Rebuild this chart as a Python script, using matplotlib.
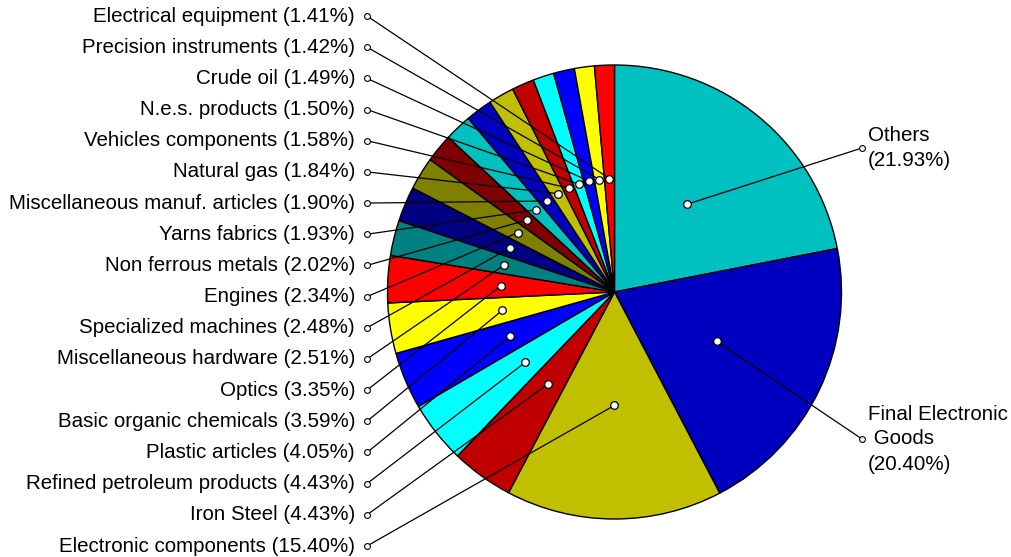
import numpy as np
import matplotlib
matplotlib.use("Agg")
import matplotlib.pyplot as plt

plt.rcParams['font.family'] = ['Liberation Sans', 'DejaVu Sans']

# slices, clockwise from the top
names = ["Others", "Final Electronic Goods", "Electronic components", "Iron Steel",
         "Refined petroleum products", "Plastic articles", "Basic organic chemicals",
         "Optics", "Miscellaneous hardware", "Specialized machines", "Engines",
         "Non ferrous metals", "Yarns fabrics", "Miscellaneous manuf. articles",
         "Natural gas", "Vehicles components", "N.e.s. products", "Crude oil",
         "Precision instruments", "Electrical equipment"]
shares = [21.93, 20.40, 15.40, 4.43, 4.43, 4.05, 3.59, 3.35, 2.51, 2.48, 2.34,
          2.02, 1.93, 1.90, 1.84, 1.58, 1.50, 1.49, 1.42, 1.41]
palette = ["#00C0C0", "#0000C0", "#C0C000", "#C00000", "#00FFFF", "#0000FF",
           "#FFFF00", "#FF0000", "#008080", "#000080", "#808000", "#800000"]
right_texts = ["Others\n(21.93%)", "Final Electronic\n Goods\n(20.40%)"]

W, H = 1011, 557
fig = plt.figure(figsize=(W / 100, H / 100), dpi=100)
ax = fig.add_axes([0, 0, 1, 1])

# work in pixel units, y measured upward
cx, cy, R = 614.5, H - 292, 227
colors = [palette[i % len(palette)] for i in range(len(shares))]
wedges, _ = ax.pie(shares, colors=colors, startangle=90, counterclock=False,
                   radius=R, center=(cx, cy),
                   wedgeprops=dict(edgecolor="black", linewidth=1))
ax.set_xlim(0, W)
ax.set_ylim(0, H)
ax.set_aspect("equal")
ax.axis("off")

def inner_point(w):
    a = np.deg2rad((w.theta1 + w.theta2) / 2)
    return cx + 0.5 * R * np.cos(a), cy + 0.5 * R * np.sin(a)

def connect(w, lx, ly):
    px, py = inner_point(w)
    ax.plot([lx, px], [ly, py], color="black", lw=0.9, zorder=5)
    ax.plot(px, py, "o", ms=5.5, mfc="white", mec="black", mew=0.9, zorder=6)
    ax.plot(lx, ly, "o", ms=4.2, mfc="white", mec="black", mew=0.8, zorder=6)

# left side labels, top to bottom
left_idx = list(range(len(shares) - 1, 1, -1))
left_y = np.linspace(16, 546, len(left_idx))
for i, y in zip(left_idx, left_y):
    ly = H - y
    connect(wedges[i], 367, ly)
    ax.text(355, ly, f"{names[i]} ({shares[i]:.2f}%)", ha="right", va="center",
            fontsize=14.8)

# right side labels
for i, (y, txt) in enumerate(zip([148, 439], right_texts)):
    ly = H - y
    connect(wedges[i], 862, ly)
    ax.text(868, ly, txt, ha="left", va="center", fontsize=14.8, linespacing=1.4)

fig.savefig("out.png", dpi=100)
